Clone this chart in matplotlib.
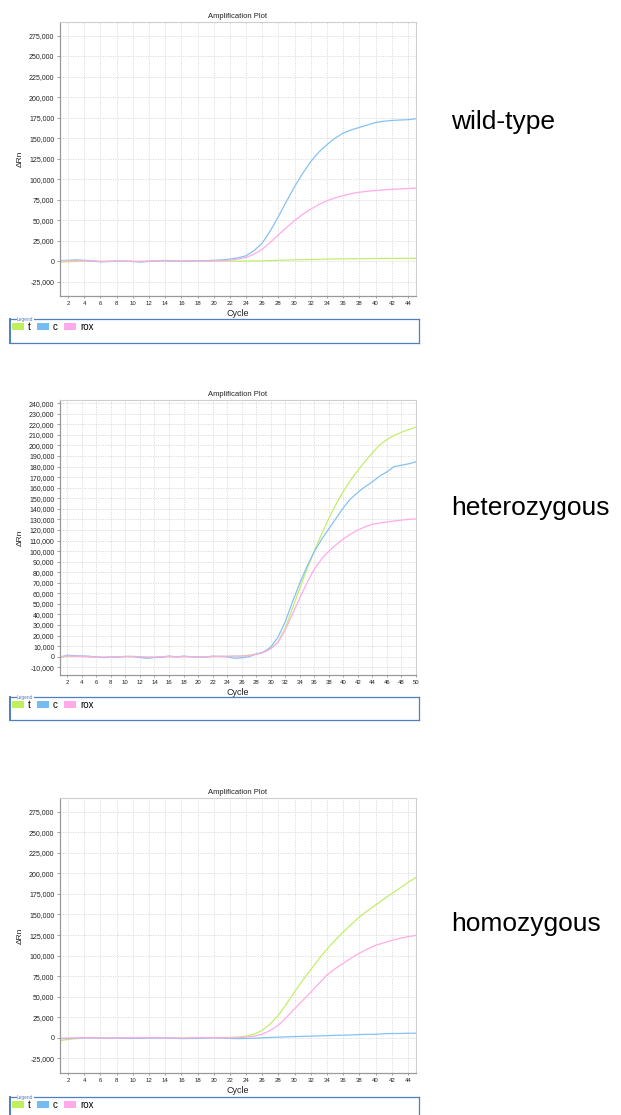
import numpy as np
import matplotlib
matplotlib.use("Agg")
import matplotlib.pyplot as plt
from matplotlib.patches import Patch
from matplotlib.ticker import FuncFormatter, MultipleLocator

plt.rcParams['font.family'] = ['Liberation Sans', 'DejaVu Sans']

series_names = ['t', 'c', 'rox']
series_colors = ['#c3ee6a', '#84c2f4', '#ffabe8']
legend_colors = ['#bdf05a', '#74bcf4', '#ffa8ea']

# wild-type run, cycles 1..45
wt_cycles = np.arange(1, 46)
wt_t = [-1500, -800, -300, 0, 0, -300, -200, 0, 0, -200, -300, -100, 0, 100, -300,
        -200, 0, 0, 100, 0, 200, 100, 0, 100, 200, 400, 700, 1000, 1300, 1500,
        1800, 2000, 2200, 2400, 2600, 2700, 2900, 3000, 3100, 3200, 3300, 3400, 3400, 3500, 3500]
wt_c = [800, 1000, 1500, 1000, 300, -900, -500, 0, -200, -500, -1200, -300, 300, 900, 400,
        0, 200, 300, 600, 1000, 1500, 2500, 4000, 6500, 13000, 22000, 37000, 54500, 73000, 91000,
        107000, 121500, 133000, 142000, 150000, 156000, 160000, 163000, 166000, 169000,
        170500, 171500, 172000, 172400, 173600]
wt_rox = [300, 500, 500, 300, 0, -300, -200, 0, 0, -200, -300, 0, 200, 300, 100,
          0, 0, 100, 200, 300, 600, 1200, 2500, 4500, 8500, 14600, 23000, 32000, 41000, 49600,
          57000, 63400, 69000, 73600, 77200, 80000, 82300, 84000, 85200, 86000,
          86800, 87500, 88000, 88500, 89000]

# heterozygous run, cycles 1..50
het_cycles = np.arange(1, 51)
het_t = [-500, 500, 500, 300, 0, -300, -500, -300, -200, 0, 0, -300, -500, -500, -300,
         0, 0, 0, 0, -200, -300, 0, 200, 300, 500, 800, 1500, 2500, 4200, 7500,
         14000, 27000, 46000, 65000, 83000, 100000, 116000, 131000, 144500, 156500,
         167000, 176500, 185000, 193000, 200500, 205500, 209500, 212500, 215000, 217500]
het_c = [-500, 1500, 900, 700, 500, -300, -800, -500, -300, 300, 200, -800, -1500, -800, -500,
         700, -300, 600, 0, -500, -300, 500, 300, 0, -1500, -1000, 0, 2500, 4500, 9000,
         18500, 33000, 52000, 69500, 85500, 99500, 111000, 121000, 131000, 141000,
         149500, 155500, 161000, 165500, 171000, 175000, 180000, 181300, 182600, 184500]
het_rox = [0, 800, 500, 300, 0, -200, -300, -200, 0, 200, 300, 0, -300, -300, 0,
           300, 0, 200, 0, -300, 0, 300, 300, 500, 600, 600, 1000, 2200, 4000, 7500,
           13500, 25500, 40500, 55500, 70000, 83000, 92500, 100000, 106000, 111500,
           116000, 120000, 123000, 125500, 126500, 127500, 128500, 129300, 130000, 130500]

# homozygous run, cycles 1..45
hom_cycles = np.arange(1, 46)
hom_t = [-3500, -2000, -1000, -300, -200, -300, -300, -200, -100, 0, 200, 300, 200, 100, 0,
         -200, -200, 0, 200, 300, 300, 400, 900, 2000, 4500, 9000, 17000, 27500, 41500, 56000,
         70000, 83000, 96000, 108000, 118500, 128500, 138000, 147000, 154500, 161500,
         168500, 175500, 182000, 189000, 195000]
hom_c = [-1000, -800, -300, 0, -300, -500, -500, -300, -500, -800, -500, -300, -300, -200, -500,
         -1000, -800, -800, -300, 0, -200, -800, -1000, -800, -500, 0, 500, 800, 1200, 1500,
         1800, 2000, 2300, 2600, 3000, 3200, 3500, 4000, 4200, 4300, 5000, 5200, 5300, 5500, 5600]
hom_rox = [-500, -300, -200, 0, 0, -200, -300, -200, 0, 0, 200, 200, 0, 0, -200,
           -300, -200, 0, 0, 100, 0, 0, 300, 800, 2000, 4500, 9000, 15500, 25000, 35500,
           45500, 55500, 66000, 76500, 84000, 90500, 97000, 103000, 108000, 112500,
           115500, 118500, 121000, 123000, 124500]

panels = [
    dict(label='wild-type', x=wt_cycles, ys=[wt_t, wt_c, wt_rox], xlim=(1, 45),
         ylim=(-42500, 291500), ystep=25000, top=22, bottom=296, legend=(319, 343), text_y=122),
    dict(label='heterozygous', x=het_cycles, ys=[het_t, het_c, het_rox], xlim=(1, 50),
         ylim=(-17300, 243000), ystep=10000, top=400, bottom=675, legend=(697, 720), text_y=508),
    dict(label='homozygous', x=hom_cycles, ys=[hom_t, hom_c, hom_rox], xlim=(1, 45),
         ylim=(-42800, 291700), ystep=25000, top=798, bottom=1073, legend=(1097, 1125), text_y=924),
]

W, H = 621, 1115
fig = plt.figure(figsize=(W / 100, H / 100), dpi=100)


def fig_box(left, top, right, bottom):
    return [left / W, 1 - bottom / H, (right - left) / W, (bottom - top) / H]


for p in panels:
    ax = fig.add_axes(fig_box(60, p['top'], 416, p['bottom']))
    for name, color, y in zip(series_names, series_colors, p['ys']):
        ax.plot(p['x'], y, color=color, lw=0.9, label=name)
    ax.set_xlim(*p['xlim'])
    ax.set_ylim(*p['ylim'])
    ax.xaxis.set_major_locator(MultipleLocator(2))
    ax.yaxis.set_major_locator(MultipleLocator(p['ystep']))
    ax.yaxis.set_major_formatter(FuncFormatter(lambda v, _: f'{v:,.0f}'))
    ax.grid(True, color='#d8d8d8', linestyle=(0, (1.5, 1.5)), lw=0.6)
    ax.tick_params(axis='y', labelsize=5, length=2, width=0.5, color='#777777', pad=2,
                   labelcolor='#222222')
    ax.tick_params(axis='x', labelsize=4.3, length=1.5, width=0.5, color='#777777', pad=2,
                   labelcolor='#222222')
    for side in ('left', 'bottom'):
        ax.spines[side].set_color('#999999')
        ax.spines[side].set_linewidth(0.9)
    for side in ('top', 'right'):
        ax.spines[side].set_color('#cfcfcf')
        ax.spines[side].set_linewidth(0.8)
    ax.set_title('Amplification Plot', fontsize=5.5, pad=3, color='#222222')
    ax.set_xlabel('Cycle', fontsize=6.5, labelpad=2, color='#222222')
    ax.set_ylabel('ΔRn', fontsize=6, labelpad=4, color='#222222')

    # legend box under the plot
    ltop, lbot = p['legend']
    lax = fig.add_axes(fig_box(10, ltop, 419, lbot))
    lax.set_xticks([])
    lax.set_yticks([])
    for side in lax.spines:
        lax.spines[side].set_color('#4f7fc0')
        lax.spines[side].set_linewidth(0.9)
    lax.spines['left'].set_linewidth(1.4)
    handles = [Patch(facecolor=c, edgecolor='none', label=n)
               for n, c in zip(series_names, legend_colors)]
    anchor_y = 1 - 8 / (lbot - ltop)
    lax.legend(handles=handles, loc='center left', ncol=3, frameon=False, fontsize=7,
               handlelength=1.2, handleheight=0.65, handletextpad=0.4, columnspacing=0.7,
               borderaxespad=0, borderpad=0, bbox_to_anchor=(2 / 409, anchor_y))
    fig.text(17 / W, 1 - ltop / H, 'Legend', fontsize=3.5, color='#4f7fc0', va='center',
             bbox=dict(facecolor='white', edgecolor='none', pad=0.3))

    fig.text(451 / W, 1 - p['text_y'] / H, p['label'], fontsize=19, va='center',
             ha='left', color='black')

fig.savefig('out.png', dpi=100, facecolor='white')
